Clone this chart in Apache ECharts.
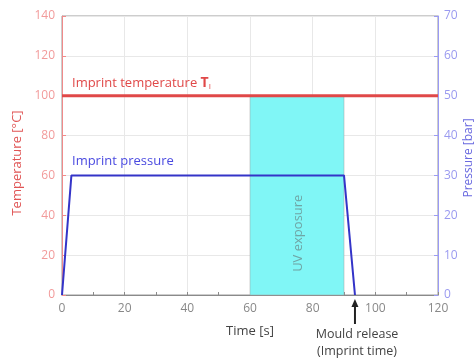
<!DOCTYPE html>
<html>
<head>
<meta charset="utf-8">
<script src="https://cdn.jsdelivr.net/npm/echarts@6/dist/echarts.min.js"></script>
<style>
  html, body { margin: 0; padding: 0; background: #fff; }
  #chart { width: 476px; height: 358px; }
</style>
</head>
<body>
<div id="chart"></div>
<script>
// temperature (left axis, °C)
const tempData = [[0, 100], [120, 100]];
// pressure (right axis, bar)
const pressureData = [[0, 0], [3, 30], [90, 30], [93.5, 0]];
// UV exposure window [s]
const uvWindow = [60, 90];
const uvTop = 100;
const releaseTime = 93.5;

const chart = echarts.init(document.getElementById("chart"));
const font = "Open Sans";

const option = {
  animation: false,
  textStyle: { fontFamily: font },
  grid: {
    left: 62,
    right: 38,
    top: 16,
    bottom: 63,
    outerBoundsMode: "none",
    show: true,
    borderColor: "#9a9a9a",
    borderWidth: 1,
  },
  xAxis: {
    type: "value",
    min: 0,
    max: 120,
    interval: 20,
    axisLine: { lineStyle: { color: "#8a8a8a" } },
    axisTick: { show: true, inside: true, length: 3, lineStyle: { color: "#8a8a8a" } },
    minorTick: { show: true, splitNumber: 2, length: 3, lineStyle: { color: "#8a8a8a" } },
    axisLabel: { color: "#888", fontSize: 12, margin: 8 },
    splitLine: { show: true, lineStyle: { color: "#e8e8e8" } },
  },
  yAxis: [
    {
      type: "value",
      min: 0,
      max: 140,
      interval: 20,
      name: "Temperature [°C]",
      nameLocation: "middle",
      nameGap: 38,
      nameTextStyle: { color: "#e05555", fontSize: 13, padding: [0, 15, 0, 0] },
      axisLine: { show: true, lineStyle: { color: "#f08a8a" } },
      axisTick: { show: true, inside: true, length: 4, lineStyle: { color: "#f08a8a" } },
      axisLabel: { color: "#f29a9a", fontSize: 12, margin: 7 },
      splitLine: { show: true, lineStyle: { color: "#e8e8e8" } },
    },
    {
      type: "value",
      min: 0,
      max: 70,
      interval: 10,
      position: "right",
      axisLine: { show: true, lineStyle: { color: "#9a9af5" } },
      axisTick: { show: true, inside: true, length: 4, lineStyle: { color: "#9a9af5" } },
      axisLabel: { color: "#9a9af0", fontSize: 12, margin: 6 },
      splitLine: { show: false },
    },
  ],
  series: [
    {
      name: "Imprint temperature",
      type: "line",
      yAxisIndex: 0,
      data: tempData,
      symbol: "none",
      lineStyle: { color: "#e04848", width: 3 },
      z: 3,
      markArea: {
        silent: true,
        itemStyle: { color: "#80f6f6", borderColor: "#a0a0a0", borderWidth: 0.5 },
        data: [[{ xAxis: uvWindow[0], yAxis: 0 }, { xAxis: uvWindow[1], yAxis: uvTop }]],
      },
    },
    {
      name: "Imprint pressure",
      type: "line",
      yAxisIndex: 1,
      data: pressureData,
      symbol: "none",
      lineStyle: { color: "#3434c8", width: 2 },
      z: 4,
    },
  ],
};

chart.setOption(option);

// annotations placed from axis coordinates
const rel = chart.convertToPixel({ gridIndex: 0 }, [releaseTime, 0]);
const uv = chart.convertToPixel({ gridIndex: 0 }, [(uvWindow[0] + uvWindow[1]) / 2 + 0.5, 31]);
const txt = (s, x, y, color, size, extra) => ({
  type: "text",
  x: x,
  y: y,
  z: 100,
  style: Object.assign({ text: s, fill: color, font: size + "px " + font, verticalAlign: "middle" }, extra || {}),
});

chart.setOption({
  graphic: [
    txt("Imprint temperature {b|T}{s|I}", 72, 83, "#e04848", 13, {
      rich: {
        b: { fontWeight: "bold", fontSize: 14, fill: "#e04848", fontFamily: font },
        s: { fontSize: 8, fill: "#e04848", fontFamily: font, padding: [8, 0, 0, 0] },
      },
    }),
    txt("Imprint pressure", 72, 161, "#4a4ae0", 13),
    Object.assign(txt("UV exposure", uv[0], uv[1], "#6fa5a5", 13, { align: "center" }), { rotation: Math.PI / 2 }),
    Object.assign(txt("Pressure [bar]", 469, 158, "#6a6ae0", 12, { align: "center" }), { rotation: Math.PI / 2 }),
    txt("Time [s]", 250, 331, "#444", 13, { align: "center" }),
    txt("Mould release", 357, 334, "#444", 12.5, { align: "center" }),
    txt("(Imprint time)", 357, 351, "#444", 12.5, { align: "center" }),
    {
      type: "line",
      z: 100,
      shape: { x1: rel[0], y1: rel[1] + 29, x2: rel[0], y2: rel[1] + 10 },
      style: { stroke: "#222", lineWidth: 2 },
    },
    {
      type: "polygon",
      z: 100,
      shape: { points: [[rel[0] - 3.5, rel[1] + 12], [rel[0] + 3.5, rel[1] + 12], [rel[0], rel[1] + 4]] },
      style: { fill: "#222" },
    },
  ],
});
</script>
</body>
</html>
